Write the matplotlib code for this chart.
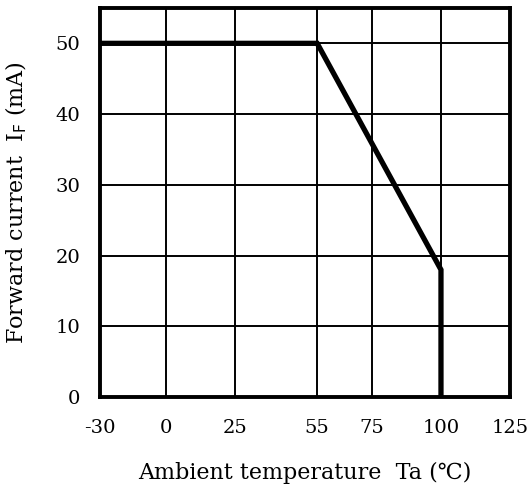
import numpy as np
import matplotlib
matplotlib.use("Agg")
import matplotlib.pyplot as plt

# Datos de la curva de derating
temp = [-30, 55, 100, 100]
current = [50, 50, 18, 0]

x_ticks = [-30, 0, 25, 55, 75, 100, 125]
y_ticks = [0, 10, 20, 30, 40, 50]

plt.rcParams['font.family'] = ['DejaVu Serif', 'DejaVu Sans']


# Escala partida: el tramo negativo está comprimido en el original
def fwd(x):
    x = np.asarray(x, dtype=float)
    return np.where(x < 0, x * 0.8, x)


def inv(x):
    x = np.asarray(x, dtype=float)
    return np.where(x < 0, x / 0.8, x)


fig = plt.figure(figsize=(5.31, 4.97), dpi=100)
ax = fig.add_axes([0.188, 0.201, 0.772, 0.783])
ax.set_xscale('function', functions=(fwd, inv))

ax.plot(temp, current, color='black', lw=3.8, solid_joinstyle='miter', zorder=3)

ax.set_xlim(-30, 125)
ax.set_ylim(0, 55)
ax.set_xticks(x_ticks)
ax.set_xticklabels([str(t) for t in x_ticks])
ax.set_yticks(y_ticks)
ax.grid(True, color='black', lw=1.4)
ax.tick_params(length=0, labelsize=14, pad=14)
ax.tick_params(axis='x', pad=16)

for s in ax.spines.values():
    s.set_linewidth(2.8)

ax.set_xlabel('Ambient temperature  Ta (℃)', fontsize=16, labelpad=18)
ax.set_ylabel(r'Forward current  I$_\mathrm{F}$ (mA)', fontsize=16, labelpad=19)

plt.savefig('out.png', dpi=100)
